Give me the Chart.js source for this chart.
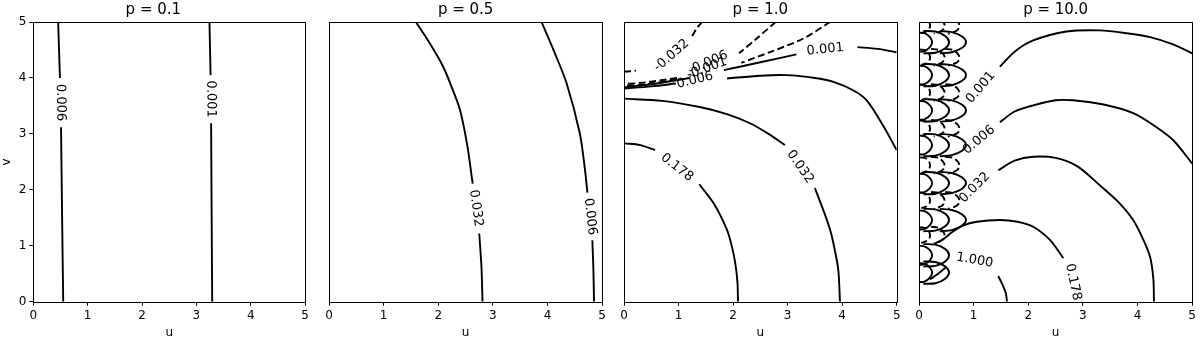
<!DOCTYPE html>
<html>
<head>
<meta charset="utf-8">
<script src="https://cdn.jsdelivr.net/npm/chart.js@4.4.1/dist/chart.umd.min.js"></script>
<style>
  html, body { margin: 0; padding: 0; background: #fff; }
  #wrap { position: relative; width: 1200px; height: 340px; overflow: hidden; background: #fff; }
  #wrap canvas { position: absolute; top: 0; }
</style>
</head>
<body>
<div id="wrap">
  <canvas id="c1" width="312" height="340" style="left:0px"></canvas>
  <canvas id="c2" width="287" height="340" style="left:322px"></canvas>
  <canvas id="c3" width="287" height="340" style="left:617px"></canvas>
  <canvas id="c4" width="287" height="340" style="left:912px"></canvas>
</div>
<script>
// ---- data (u, v) ----
const tickVals = [0, 1, 2, 3, 4, 5];
const titles = ['p = 0.1', 'p = 0.5', 'p = 1.0', 'p = 10.0'];

// p = 0.1
const p1_006_a = [[0.55, 0], [0.53, 1.5], [0.51, 3.12]];
const p1_006_b = [[0.49, 4.0], [0.457, 5]];
const p1_001_a = [[3.29, 0], [3.28, 1.5], [3.27, 3.19]];
const p1_001_b = [[3.26, 4.05], [3.24, 5]];

// p = 0.5
const p2_032_a = [[1.59, 5], [1.85, 4.61], [2.09, 4.2], [2.26, 3.8], [2.4, 3.42], [2.53, 2.8], [2.63, 2.11]];
const p2_032_b = [[2.75, 1.22], [2.79, 0.63], [2.81, 0]];
const p2_006_a = [[3.89, 5], [4.13, 4.45], [4.35, 3.9], [4.59, 3.01], [4.68, 2.4], [4.73, 1.95]];
const p2_006_b = [[4.82, 1.1], [4.84, 0.55], [4.85, 0]];

// p = 1.0
const p3_m032_a = [[0, 4.11], [0.22, 4.13]];
const p3_m032_b = [[1.25, 4.75], [1.33, 4.88], [1.43, 5]];
const p3_m006_a = [[2.78, 5], [2.45, 4.72], [2.11, 4.44]];
const p3_m006_b = [[0.97, 4.0], [0.4, 3.92], [0, 3.89]];
const p3_m001_a = [[3.78, 5], [3.3, 4.71], [2.7, 4.47], [2.15, 4.27]];
const p3_m001_b = [[0.95, 3.97], [0.4, 3.89], [0, 3.86]];
const p3_001_a = [[0, 3.83], [0.6, 3.9], [1.2, 4.0]];
const p3_001_b = [[1.83, 4.14], [2.5, 4.28], [3.16, 4.42]];
const p3_001_c = [[4.28, 4.55], [4.65, 4.52], [5, 4.46]];
const p3_006_a = [[0, 3.81], [0.5, 3.85], [0.95, 3.9]];
const p3_006_b = [[1.89, 3.99], [2.5, 4.04], [2.98, 4.05], [3.5, 4.0], [3.84, 3.93], [4.2, 3.78], [4.45, 3.6], [4.75, 3.15], [5, 2.71]];
const p3_032_a = [[0, 3.63], [0.7, 3.59], [1.39, 3.48], [1.9, 3.35], [2.31, 3.19], [2.65, 3.0], [2.95, 2.8]];
const p3_032_b = [[3.5, 2.03], [3.65, 1.65], [3.78, 1.28], [3.87, 0.9], [3.93, 0.56], [3.96, 0]];
const p3_178_a = [[0, 2.83], [0.3, 2.8], [0.57, 2.71]];
const p3_178_b = [[1.38, 2.1], [1.65, 1.75], [1.89, 1.28], [1.98, 0.98], [2.04, 0.69], [2.08, 0.35], [2.09, 0]];

// p = 10.0
const p4_001 = [[1.48, 4.2], [1.75, 4.47], [2.09, 4.67], [2.7, 4.83], [3.31, 4.85], [3.8, 4.8], [4.23, 4.73], [4.65, 4.6], [5, 4.44]];
const p4_006 = [[1.48, 3.21], [1.75, 3.4], [2.09, 3.51], [2.5, 3.6], [2.82, 3.6], [3.4, 3.52], [3.92, 3.37], [4.3, 3.15], [4.65, 2.89], [5, 2.47]];
const p4_032 = [[1.45, 2.35], [1.75, 2.52], [2.09, 2.59], [2.5, 2.57], [2.9, 2.42], [3.31, 2.08], [3.65, 1.78], [3.92, 1.46], [4.1, 1.12], [4.23, 0.8], [4.29, 0.4], [4.3, 0]];
const p4_178 = [[0.29, 1.04], [0.45, 1.12], [0.6, 1.24], [0.8, 1.36], [1.06, 1.43], [1.48, 1.46], [1.8, 1.43], [2.09, 1.34], [2.4, 1.1], [2.64, 0.78]];
const p4_1000_a = [[0.2, 0.4], [0.35, 0.5], [0.51, 0.63]];
const p4_1000_b = [[1.45, 0.46], [1.53, 0.3], [1.59, 0.15], [1.61, 0]];

// oscillating lobes along u = 0 (p = 10.0): arc shapes, repeated at each row centre
const lobeArcs = [
  [[0, 0.17], [0.1, 0.16], [0.2, 0.09], [0.24, 0], [0.2, -0.09], [0.1, -0.16], [0, -0.17]],
  [[0.08, 0.2], [0.3, 0.19], [0.48, 0.11], [0.55, 0], [0.48, -0.11], [0.3, -0.19], [0.08, -0.2]],
  [[0.38, 0.2], [0.6, 0.18], [0.79, 0.1], [0.86, 0], [0.79, -0.1], [0.6, -0.18], [0.38, -0.2]]
];
const dashArcs = [
  [[0.02, 0.14], [0.13, 0.12], [0.19, 0.05], [0.2, -0.03], [0.15, -0.1], [0.04, -0.14]],
  [[0.22, 0.15], [0.36, 0.13], [0.45, 0.05], [0.47, -0.03], [0.41, -0.1], [0.27, -0.15]],
  [[0.48, 0.15], [0.62, 0.13], [0.72, 0.05], [0.74, -0.03], [0.68, -0.1], [0.53, -0.15]]
];
const lobeSolidV = [4.64, 4.05, 3.42, 2.8, 2.12, 1.46, 0.83, 0.52];
const lobeSolidN = [3, 3, 3, 3, 3, 3, 2, 2];
const lobeDashV = [4.94, 4.37, 3.74, 3.1, 2.44, 1.81, 1.19];
const lobeDashN = [3, 3, 3, 3, 3, 3, 2];

// contour labels: text, position (u, v), rotation in degrees (clockwise)
const labels1 = [['0.006', 0.5, 3.56, 89], ['0.001', 3.265, 3.62, 89.5]];
const labels2 = [['0.032', 2.69, 1.67, 82], ['0.006', 4.78, 1.52, 84]];
const labels3 = [
  ['-0.032', 0.87, 4.4, -41], ['-0.006', 1.54, 4.27, -24], ['-0.001', 1.52, 4.17, -20],
  ['0.006', 1.3, 3.96, -14], ['0.001', 3.69, 4.51, -6],
  ['0.032', 3.23, 2.41, 55], ['0.178', 0.97, 2.4, 38]
];
const labels4 = [
  ['0.001', 1.13, 3.83, -50], ['0.006', 1.1, 2.89, -40], ['0.032', 1.02, 2.04, -45],
  ['0.178', 2.82, 0.35, 78], ['1.000', 1.02, 0.74, 10]
];

// ---- drawing ----
const FONT = '"DejaVu Sans", sans-serif';

function line(points, dashed) {
  return {
    data: points.map(([x, y]) => ({ x, y })),
    showLine: true,
    borderColor: '#000',
    borderWidth: 1.9,
    borderDash: dashed ? [7, 3.5] : [],
    pointRadius: 0,
    fill: false,
    tension: 0.3
  };
}

function lobes() {
  const out = [];
  lobeSolidV.forEach((c, i) => lobeArcs.slice(0, lobeSolidN[i])
    .forEach(a => out.push(line(a.map(([du, dv]) => [du, c + dv]), false))));
  lobeDashV.forEach((c, i) => dashArcs.slice(0, lobeDashN[i])
    .forEach(a => out.push(line(a.map(([du, dv]) => [du, c + dv]), true))));
  return out;
}

function labelPlugin(items) {
  return {
    id: 'clabels',
    afterDatasetsDraw(chart) {
      const { ctx, scales: { x, y } } = chart;
      ctx.save();
      ctx.font = '13px ' + FONT;
      ctx.fillStyle = '#000';
      ctx.textAlign = 'center';
      ctx.textBaseline = 'middle';
      items.forEach(([text, u, v, rot]) => {
        ctx.save();
        ctx.translate(x.getPixelForValue(u), y.getPixelForValue(v));
        ctx.rotate(rot * Math.PI / 180);
        ctx.fillText(text, 0, 0);
        ctx.restore();
      });
      ctx.restore();
    }
  };
}

const framePlugin = {
  id: 'frame',
  afterDraw(chart) {
    const { ctx, chartArea: a } = chart;
    ctx.save();
    ctx.strokeStyle = '#000';
    ctx.lineWidth = 1;
    const l = Math.round(a.left) + 0.5, t = Math.round(a.top) + 0.5;
    ctx.strokeRect(l, t, Math.round(a.right) - Math.round(a.left), Math.round(a.bottom) - Math.round(a.top));
    ctx.restore();
  }
};

function axis(title, show, fitFn) {
  return {
    type: 'linear',
    min: 0,
    max: 5,
    display: show,
    afterBuildTicks: s => { s.ticks = tickVals.map(v => ({ value: v })); },
    afterFit: fitFn,
    grid: { drawOnChartArea: false, drawTicks: true, tickLength: 4, color: '#000', lineWidth: 1 },
    border: { display: false },
    ticks: { color: '#000', font: { family: FONT, size: 12 }, padding: 3, maxRotation: 0 },
    title: { display: true, text: title, color: '#000', font: { family: FONT, size: 12 }, padding: 0 }
  };
}

function makeChart(id, title, datasets, labels, pad, showY) {
  new Chart(document.getElementById(id), {
    type: 'scatter',
    data: { datasets },
    options: {
      responsive: false,
      animation: false,
      events: [],
      layout: { padding: { left: pad[0], right: pad[1], top: 0, bottom: 0 } },
      plugins: {
        legend: { display: false },
        tooltip: { enabled: false },
        title: {
          display: true, text: title, color: '#000',
          font: { family: FONT, size: 15, weight: 'normal' },
          padding: { top: 1, bottom: 3 }
        }
      },
      scales: {
        x: axis('u', true, s => { s.height = 38.3; }),
        y: axis('v', showY, s => { s.width = showY ? 33.3 : 0; })
      }
    },
    plugins: [labelPlugin(labels), framePlugin]
  });
}

makeChart('c1', titles[0], [
  line(p1_006_a), line(p1_006_b), line(p1_001_a), line(p1_001_b)
], labels1, [0, 5.3], true);

makeChart('c2', titles[1], [
  line(p2_032_a), line(p2_032_b), line(p2_006_a), line(p2_006_b)
], labels2, [7, 6.7], false);

makeChart('c3', titles[2], [
  line(p3_m032_a, true), line(p3_m032_b, true),
  line(p3_m006_a, true), line(p3_m006_b, true),
  line(p3_m001_a, true), line(p3_m001_b, true),
  line(p3_001_a), line(p3_001_b), line(p3_001_c),
  line(p3_006_a), line(p3_006_b),
  line(p3_032_a), line(p3_032_b),
  line(p3_178_a), line(p3_178_b)
], labels3, [7, 7.3], false);

makeChart('c4', titles[3], [
  line(p4_001), line(p4_006), line(p4_032), line(p4_178),
  line(p4_1000_a), line(p4_1000_b)
].concat(lobes()), labels4, [7, 6.7], false);
</script>
</body>
</html>
